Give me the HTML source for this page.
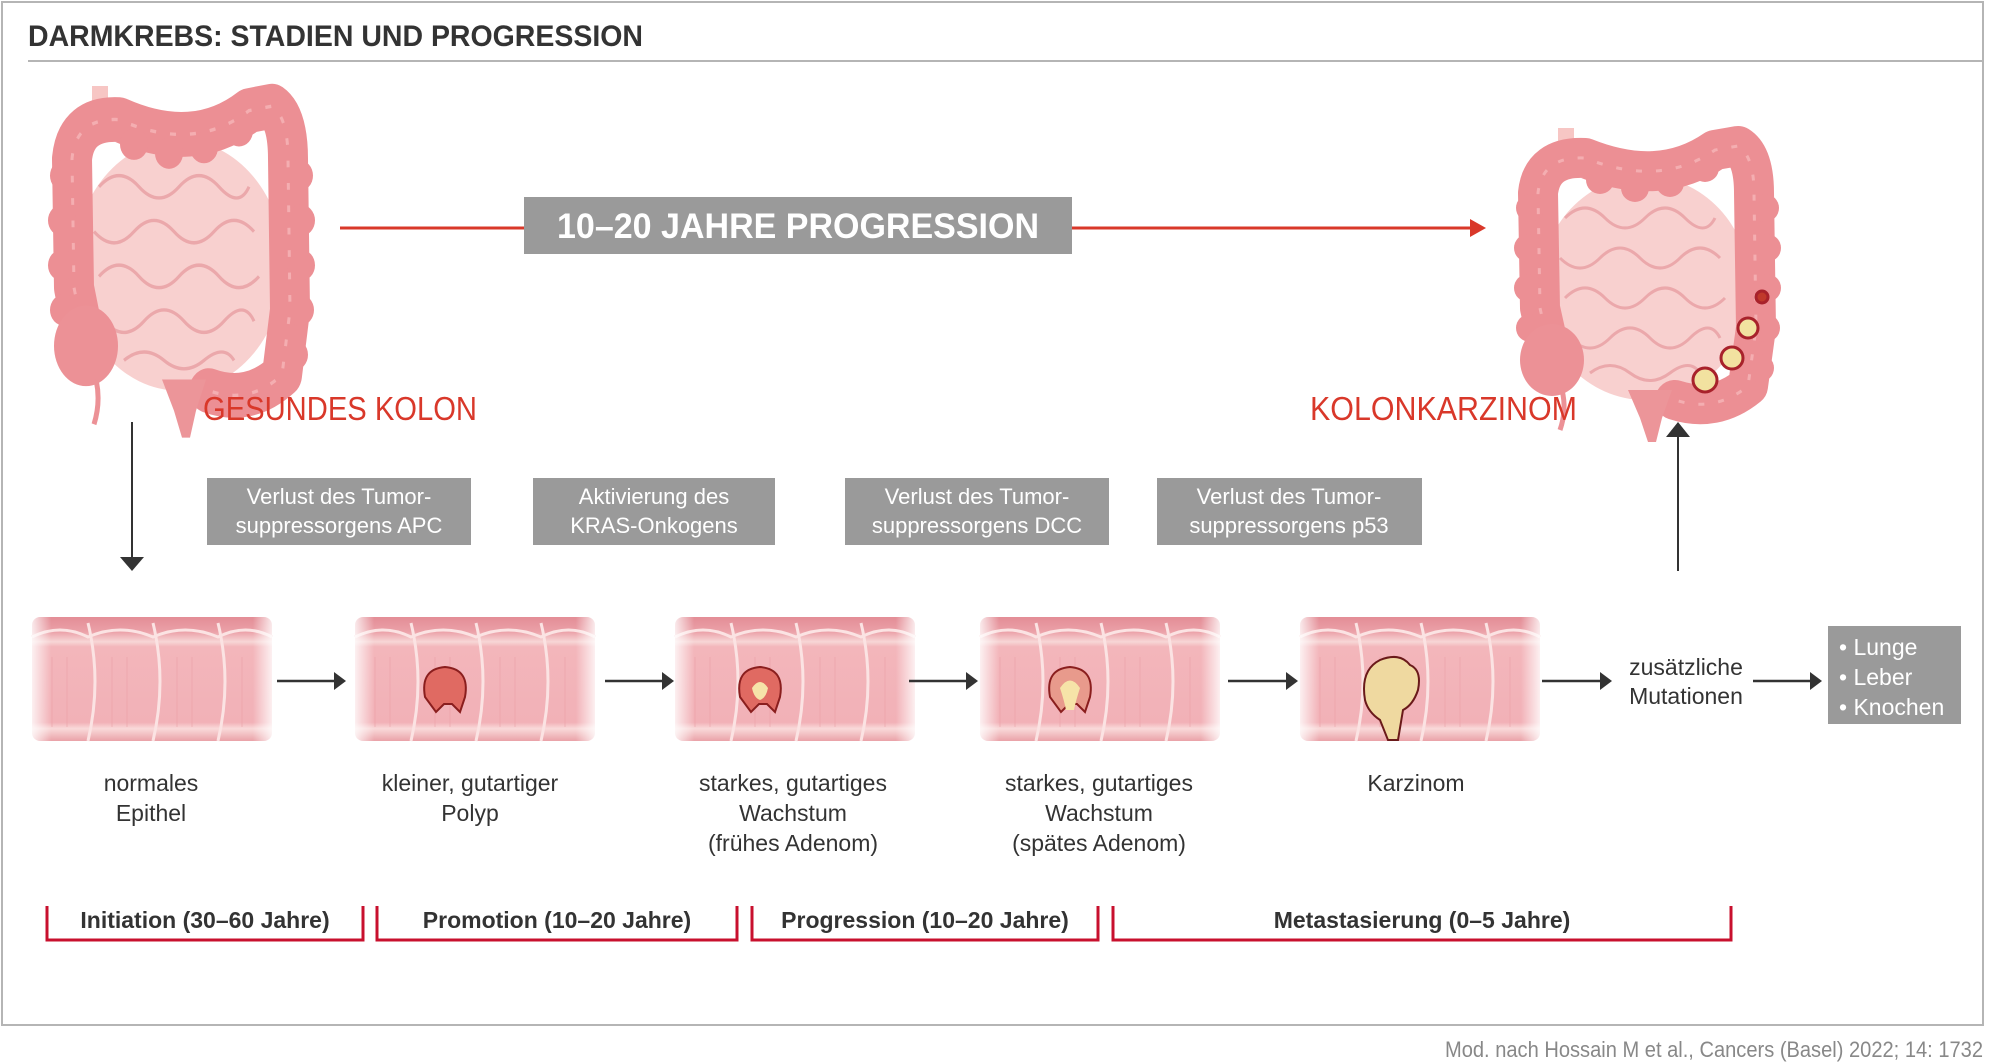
<!DOCTYPE html>
<html><head><meta charset="utf-8"><style>html,body{margin:0;padding:0;background:#fff}svg{display:block}</style></head>
<body>
<svg width="1989" height="1064" viewBox="0 0 1989 1064" xmlns="http://www.w3.org/2000/svg" font-family="'Liberation Sans', sans-serif">
<defs>
<linearGradient id="sg" x1="0" y1="0" x2="0" y2="1">
<stop offset="0" stop-color="#e38d96"/><stop offset="0.12" stop-color="#eba1a8"/><stop offset="0.2" stop-color="#f7d6d6"/><stop offset="0.24" stop-color="#f3b6bb"/><stop offset="0.85" stop-color="#f2b1b7"/><stop offset="0.9" stop-color="#f9dada"/><stop offset="1" stop-color="#eaa2a8"/>
</linearGradient>
<linearGradient id="fade" x1="0" y1="0" x2="1" y2="0">
<stop offset="0" stop-color="#fff" stop-opacity="0.8"/><stop offset="0.08" stop-color="#fff" stop-opacity="0"/><stop offset="0.92" stop-color="#fff" stop-opacity="0"/><stop offset="1" stop-color="#fff" stop-opacity="0.8"/>
</linearGradient>
<g id="seg">
<rect x="0" y="0" width="240" height="124" rx="8" fill="url(#sg)"/>
<path d="M56,6 q14,58 0,118 M121,6 q14,58 0,118 M186,6 q14,58 0,118" stroke="#fbe3e3" stroke-width="3" fill="none"/>
<path d="M0,20 q28,-14 56,0 q32,-14 65,0 q32,-14 65,0 q28,-14 54,0" stroke="#fbe3e3" stroke-width="3" fill="none"/>
<path d="M20,40 v70 M35,40 v70 M80,40 v70 M95,40 v70 M145,40 v70 M160,40 v70 M210,40 v70" stroke="#eaa0a7" stroke-width="1" opacity="0.6"/>
<rect x="0" y="0" width="240" height="124" fill="url(#fade)"/>
</g>
<g id="colon">
<rect x="48" y="0" width="16" height="40" fill="#f7c6c4"/>
<ellipse cx="135" cy="160" rx="105" ry="112" fill="#f8d0cf"/>
<path d="M55,90 q20,-20 40,0 t40,0 t40,0 t30,0 M50,130 q20,20 40,0 t40,0 t40,0 t40,0 M55,170 q20,-20 40,0 t40,0 t40,0 t40,0 M60,210 q20,20 40,0 t40,0 t40,0 t30,0 M80,245 q20,-15 40,0 t40,0 t30,0" stroke="#eba8ab" stroke-width="3" fill="none"/>
<path d="M40,225 L30,180 L28,65 Q32,28 75,30 Q150,60 205,22 L228,18 Q244,28 244,65 L246,200 L238,258 Q205,285 165,272" stroke="#ec8f94" stroke-width="40" fill="none" stroke-linecap="round" stroke-linejoin="round"/>
<g fill="#ec8f94">
<circle cx="20" cy="80" r="14"/><circle cx="18" cy="120" r="14"/><circle cx="18" cy="160" r="14"/><circle cx="20" cy="200" r="14"/>
<circle cx="255" cy="80" r="14"/><circle cx="257" cy="120" r="14"/><circle cx="257" cy="160" r="14"/><circle cx="256" cy="200" r="14"/><circle cx="250" cy="240" r="14"/>
<circle cx="90" cy="52" r="14"/><circle cx="125" cy="60" r="14"/><circle cx="160" cy="55" r="14"/><circle cx="195" cy="40" r="14"/>
</g>
<path d="M40,225 L30,180 L28,65 Q32,28 75,30 Q150,60 205,22 L228,18 Q244,28 244,65 L246,200 L238,258 Q205,285 165,272" stroke="#f4aeb1" stroke-width="3" fill="none" stroke-dasharray="6 14"/>
<ellipse cx="42" cy="232" rx="32" ry="36" fill="#ec9196"/>
<path d="M52,262 q5,20 -2,40" stroke="#ec9196" stroke-width="5" fill="none"/>
<path d="M118,262 L162,262 L152,290 L146,314 L138,314 L130,290 z" fill="#ec9599"/>
</g>
</defs>

<rect x="2" y="2" width="1981" height="1023" fill="#fff" stroke="#b5b5b5" stroke-width="2"/>
<text x="28" y="46" font-size="30" font-weight="bold" fill="#333" textLength="615" lengthAdjust="spacingAndGlyphs">DARMKREBS: STADIEN UND PROGRESSION</text>
<line x1="28" y1="61" x2="1983" y2="61" stroke="#b5b5b5" stroke-width="2"/>

<use href="#colon" transform="translate(44,86) scale(1.0,1.12)"/>
<use href="#colon" transform="translate(1510,128)"/>
<g stroke="#a8222b" stroke-width="3">
<circle cx="1762" cy="297" r="6" fill="#c0392b"/>
<circle cx="1748" cy="328" r="10" fill="#f2e2a0"/>
<circle cx="1732" cy="358" r="11" fill="#f2e2a0"/>
<circle cx="1705" cy="380" r="12" fill="#f2e2a0"/>
</g>

<line x1="340" y1="228" x2="524" y2="228" stroke="#d9382a" stroke-width="3"/>
<rect x="524" y="197" width="548" height="57" fill="#9a9a9a"/>
<text x="798" y="238" font-size="35" font-weight="bold" fill="#fff" text-anchor="middle" textLength="482" lengthAdjust="spacingAndGlyphs">10–20 JAHRE PROGRESSION</text>
<line x1="1072" y1="228" x2="1472" y2="228" stroke="#d9382a" stroke-width="3"/>
<path d="M1470,219 L1486,228 L1470,237 z" fill="#d9382a"/>

<text x="203" y="420" font-size="33" fill="#d9382a" textLength="274" lengthAdjust="spacingAndGlyphs">GESUNDES KOLON</text>
<text x="1310" y="420" font-size="33" fill="#d9382a" textLength="267" lengthAdjust="spacingAndGlyphs">KOLONKARZINOM</text>

<line x1="132" y1="422" x2="132" y2="558" stroke="#333" stroke-width="2"/>
<path d="M120,557 L144,557 L132,571 z" fill="#333"/>
<line x1="1678" y1="571" x2="1678" y2="436" stroke="#333" stroke-width="2"/>
<path d="M1666,437 L1690,437 L1678,422 z" fill="#333"/>

<g font-size="22" fill="#fff" text-anchor="middle">
<rect x="207" y="478" width="264" height="67" fill="#9a9a9a"/>
<text x="339" y="504">Verlust des Tumor-</text><text x="339" y="533">suppressorgens APC</text>
<rect x="533" y="478" width="242" height="67" fill="#9a9a9a"/>
<text x="654" y="504">Aktivierung des</text><text x="654" y="533">KRAS-Onkogens</text>
<rect x="845" y="478" width="264" height="67" fill="#9a9a9a"/>
<text x="977" y="504">Verlust des Tumor-</text><text x="977" y="533">suppressorgens DCC</text>
<rect x="1157" y="478" width="265" height="67" fill="#9a9a9a"/>
<text x="1289" y="504">Verlust des Tumor-</text><text x="1289" y="533">suppressorgens p53</text>
</g>

<use href="#seg" x="32" y="617"/>
<use href="#seg" x="355" y="617"/>
<use href="#seg" x="675" y="617"/>
<use href="#seg" x="980" y="617"/>
<use href="#seg" x="1300" y="617"/>
<path d="M425,697 q-5,-28 20,-30 q25,2 20,30 l-5,15 l-8,-8 l-8,0 l-8,8 z" fill="#e06a62" stroke="#8a1e1e" stroke-width="2"/>
<path d="M740,697 q-5,-28 20,-30 q25,2 20,30 l-5,15 l-8,-8 l-8,0 l-8,8 z" fill="#e06a62" stroke="#8a1e1e" stroke-width="2"/>
<path d="M752,688 q8,-12 16,0 q-2,10 -8,12 q-6,-2 -8,-12z" fill="#f6e3a8"/>
<path d="M1050,697 q-5,-28 20,-30 q25,2 20,30 l-5,15 l-8,-8 l-8,0 l-8,8 z" fill="#e89a8c" stroke="#8a1e1e" stroke-width="2"/>
<path d="M1060,688 q10,-15 20,0 q-4,12 -6,22 l-8,0 q-2,-10 -6,-22z" fill="#f6e3a8"/>
<path d="M1365,700 q-5,-30 15,-40 q20,-8 30,5 q12,5 8,25 q-5,15 -15,20 l-5,30 l-10,0 l-8,-20 q-12,-8 -15,-20z" fill="#efd9a0" stroke="#6a1a1a" stroke-width="2"/>

<g stroke="#333" stroke-width="2.5">
<line x1="277" y1="681" x2="336" y2="681"/><line x1="605" y1="681" x2="664" y2="681"/><line x1="909" y1="681" x2="968" y2="681"/><line x1="1228" y1="681" x2="1288" y2="681"/><line x1="1542" y1="681" x2="1602" y2="681"/><line x1="1753" y1="681" x2="1812" y2="681"/>
</g>
<g fill="#333">
<path d="M334,672 L346,681 L334,690z"/><path d="M662,672 L674,681 L662,690z"/><path d="M966,672 L978,681 L966,690z"/><path d="M1286,672 L1298,681 L1286,690z"/><path d="M1600,672 L1612,681 L1600,690z"/><path d="M1810,672 L1822,681 L1810,690z"/>
</g>

<g font-size="23" fill="#333" text-anchor="middle">
<text x="1686" y="675">zusätzliche</text><text x="1686" y="704">Mutationen</text>
<text x="151" y="791">normales</text><text x="151" y="821">Epithel</text>
<text x="470" y="791">kleiner, gutartiger</text><text x="470" y="821">Polyp</text>
<text x="793" y="791">starkes, gutartiges</text><text x="793" y="821">Wachstum</text><text x="793" y="851">(frühes Adenom)</text>
<text x="1099" y="791">starkes, gutartiges</text><text x="1099" y="821">Wachstum</text><text x="1099" y="851">(spätes Adenom)</text>
<text x="1416" y="791">Karzinom</text>
</g>

<rect x="1828" y="626" width="133" height="98" fill="#9a9a9a"/>
<g font-size="23" fill="#fff">
<text x="1839" y="655">• Lunge</text><text x="1839" y="685">• Leber</text><text x="1839" y="715">• Knochen</text>
</g>

<g stroke="#c8102e" stroke-width="3" fill="none">
<path d="M47,906 V940 H363 V906"/><path d="M377,906 V940 H737 V906"/><path d="M752,906 V940 H1098 V906"/><path d="M1113,906 V940 H1731 V906"/>
</g>
<g font-size="23" font-weight="bold" fill="#333" text-anchor="middle">
<text x="205" y="928">Initiation (30–60 Jahre)</text>
<text x="557" y="928">Promotion (10–20 Jahre)</text>
<text x="925" y="928">Progression (10–20 Jahre)</text>
<text x="1422" y="928">Metastasierung (0–5 Jahre)</text>
</g>

<text x="1983" y="1057" font-size="22" fill="#888" text-anchor="end" textLength="538" lengthAdjust="spacingAndGlyphs">Mod. nach Hossain M et al., Cancers (Basel) 2022; 14: 1732</text>
</svg>
</body></html>
